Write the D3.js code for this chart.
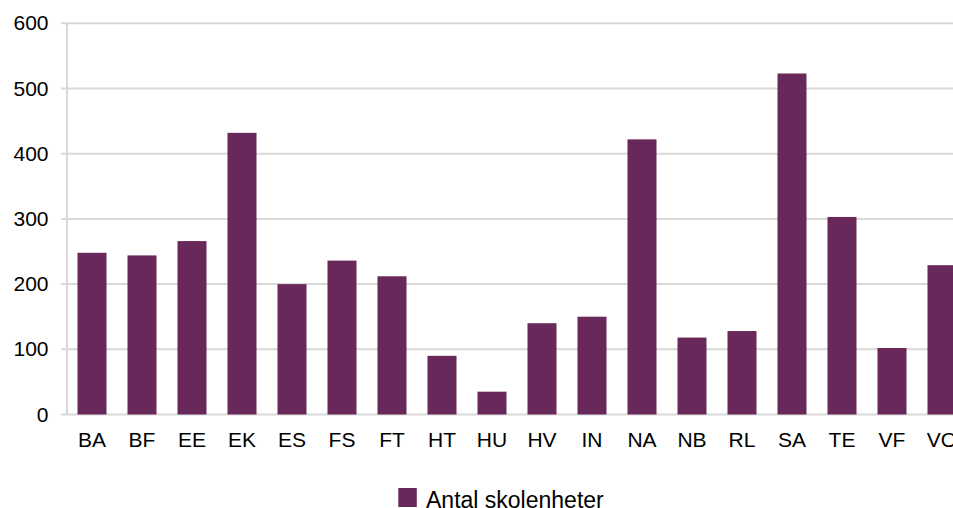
<!DOCTYPE html>
<html>
<head>
<meta charset="utf-8">
<script src="https://cdn.jsdelivr.net/npm/d3@7"></script>
<style>
  html, body { margin: 0; padding: 0; background: #fff; overflow: hidden; }
  svg { display: block; font-family: "Liberation Sans", Arial, sans-serif; }
</style>
</head>
<body>
<svg id="chart" width="953" height="508"></svg>
<script>
// Number of school units per programme
const categories = ["BA","BF","EE","EK","ES","FS","FT","HT","HU","HV","IN","NA","NB","RL","SA","TE","VF","VO"];
const values = [248, 244, 266, 432, 200, 236, 212, 90, 35, 140, 150, 422, 118, 128, 523, 303, 102, 229];
const yTicks = [0, 100, 200, 300, 400, 500, 600];
const seriesName = "Antal skolenheter";

const barColor = "#69285a";
const gridColor = "#d9d9d9";

const svg = d3.select("#chart");
const plotLeft = 67, plotTop = 23.3, plotBottom = 414.5;
const band = 50;

const x = d3.scaleBand()
  .domain(categories)
  .range([plotLeft, plotLeft + band * categories.length])
  .paddingInner(0.42)
  .paddingOuter(0.21);

const y = d3.scaleLinear().domain([0, 600]).range([plotBottom, plotTop]);

// horizontal gridlines (extend slightly left of the axis as tick marks)
svg.append("g")
  .selectAll("line")
  .data(yTicks)
  .join("line")
  .attr("x1", plotLeft - 6)
  .attr("x2", 953)
  .attr("y1", d => y(d))
  .attr("y2", d => y(d))
  .attr("stroke", gridColor)
  .attr("stroke-width", 2);

// vertical axis line
svg.append("line")
  .attr("x1", plotLeft).attr("x2", plotLeft)
  .attr("y1", y(600)).attr("y2", y(0))
  .attr("stroke", gridColor)
  .attr("stroke-width", 2);

// y tick labels
svg.append("g")
  .selectAll("text")
  .data(yTicks)
  .join("text")
  .attr("x", 48.5)
  .attr("y", d => y(d))
  .attr("dy", "0.34em")
  .attr("text-anchor", "end")
  .attr("font-size", 21)
  .attr("fill", "#000")
  .text(d => d);

// bars
svg.append("g")
  .selectAll("rect")
  .data(values)
  .join("rect")
  .attr("x", (d, i) => x(categories[i]))
  .attr("width", x.bandwidth())
  .attr("y", d => y(d))
  .attr("height", d => y(0) - y(d))
  .attr("fill", barColor);

// category labels
svg.append("g")
  .selectAll("text")
  .data(categories)
  .join("text")
  .attr("x", d => x(d) + x.bandwidth() / 2)
  .attr("y", 447)
  .attr("text-anchor", "middle")
  .attr("font-size", 21)
  .attr("fill", "#000")
  .text(d => d);

// legend
const legend = svg.append("g");
legend.append("rect")
  .attr("x", 398.3).attr("y", 488)
  .attr("width", 18.5).attr("height", 19)
  .attr("fill", barColor);
legend.append("text")
  .attr("x", 426)
  .attr("y", 507.5)
  .attr("font-size", 23)
  .attr("fill", "#000")
  .text(seriesName);
</script>
</body>
</html>
